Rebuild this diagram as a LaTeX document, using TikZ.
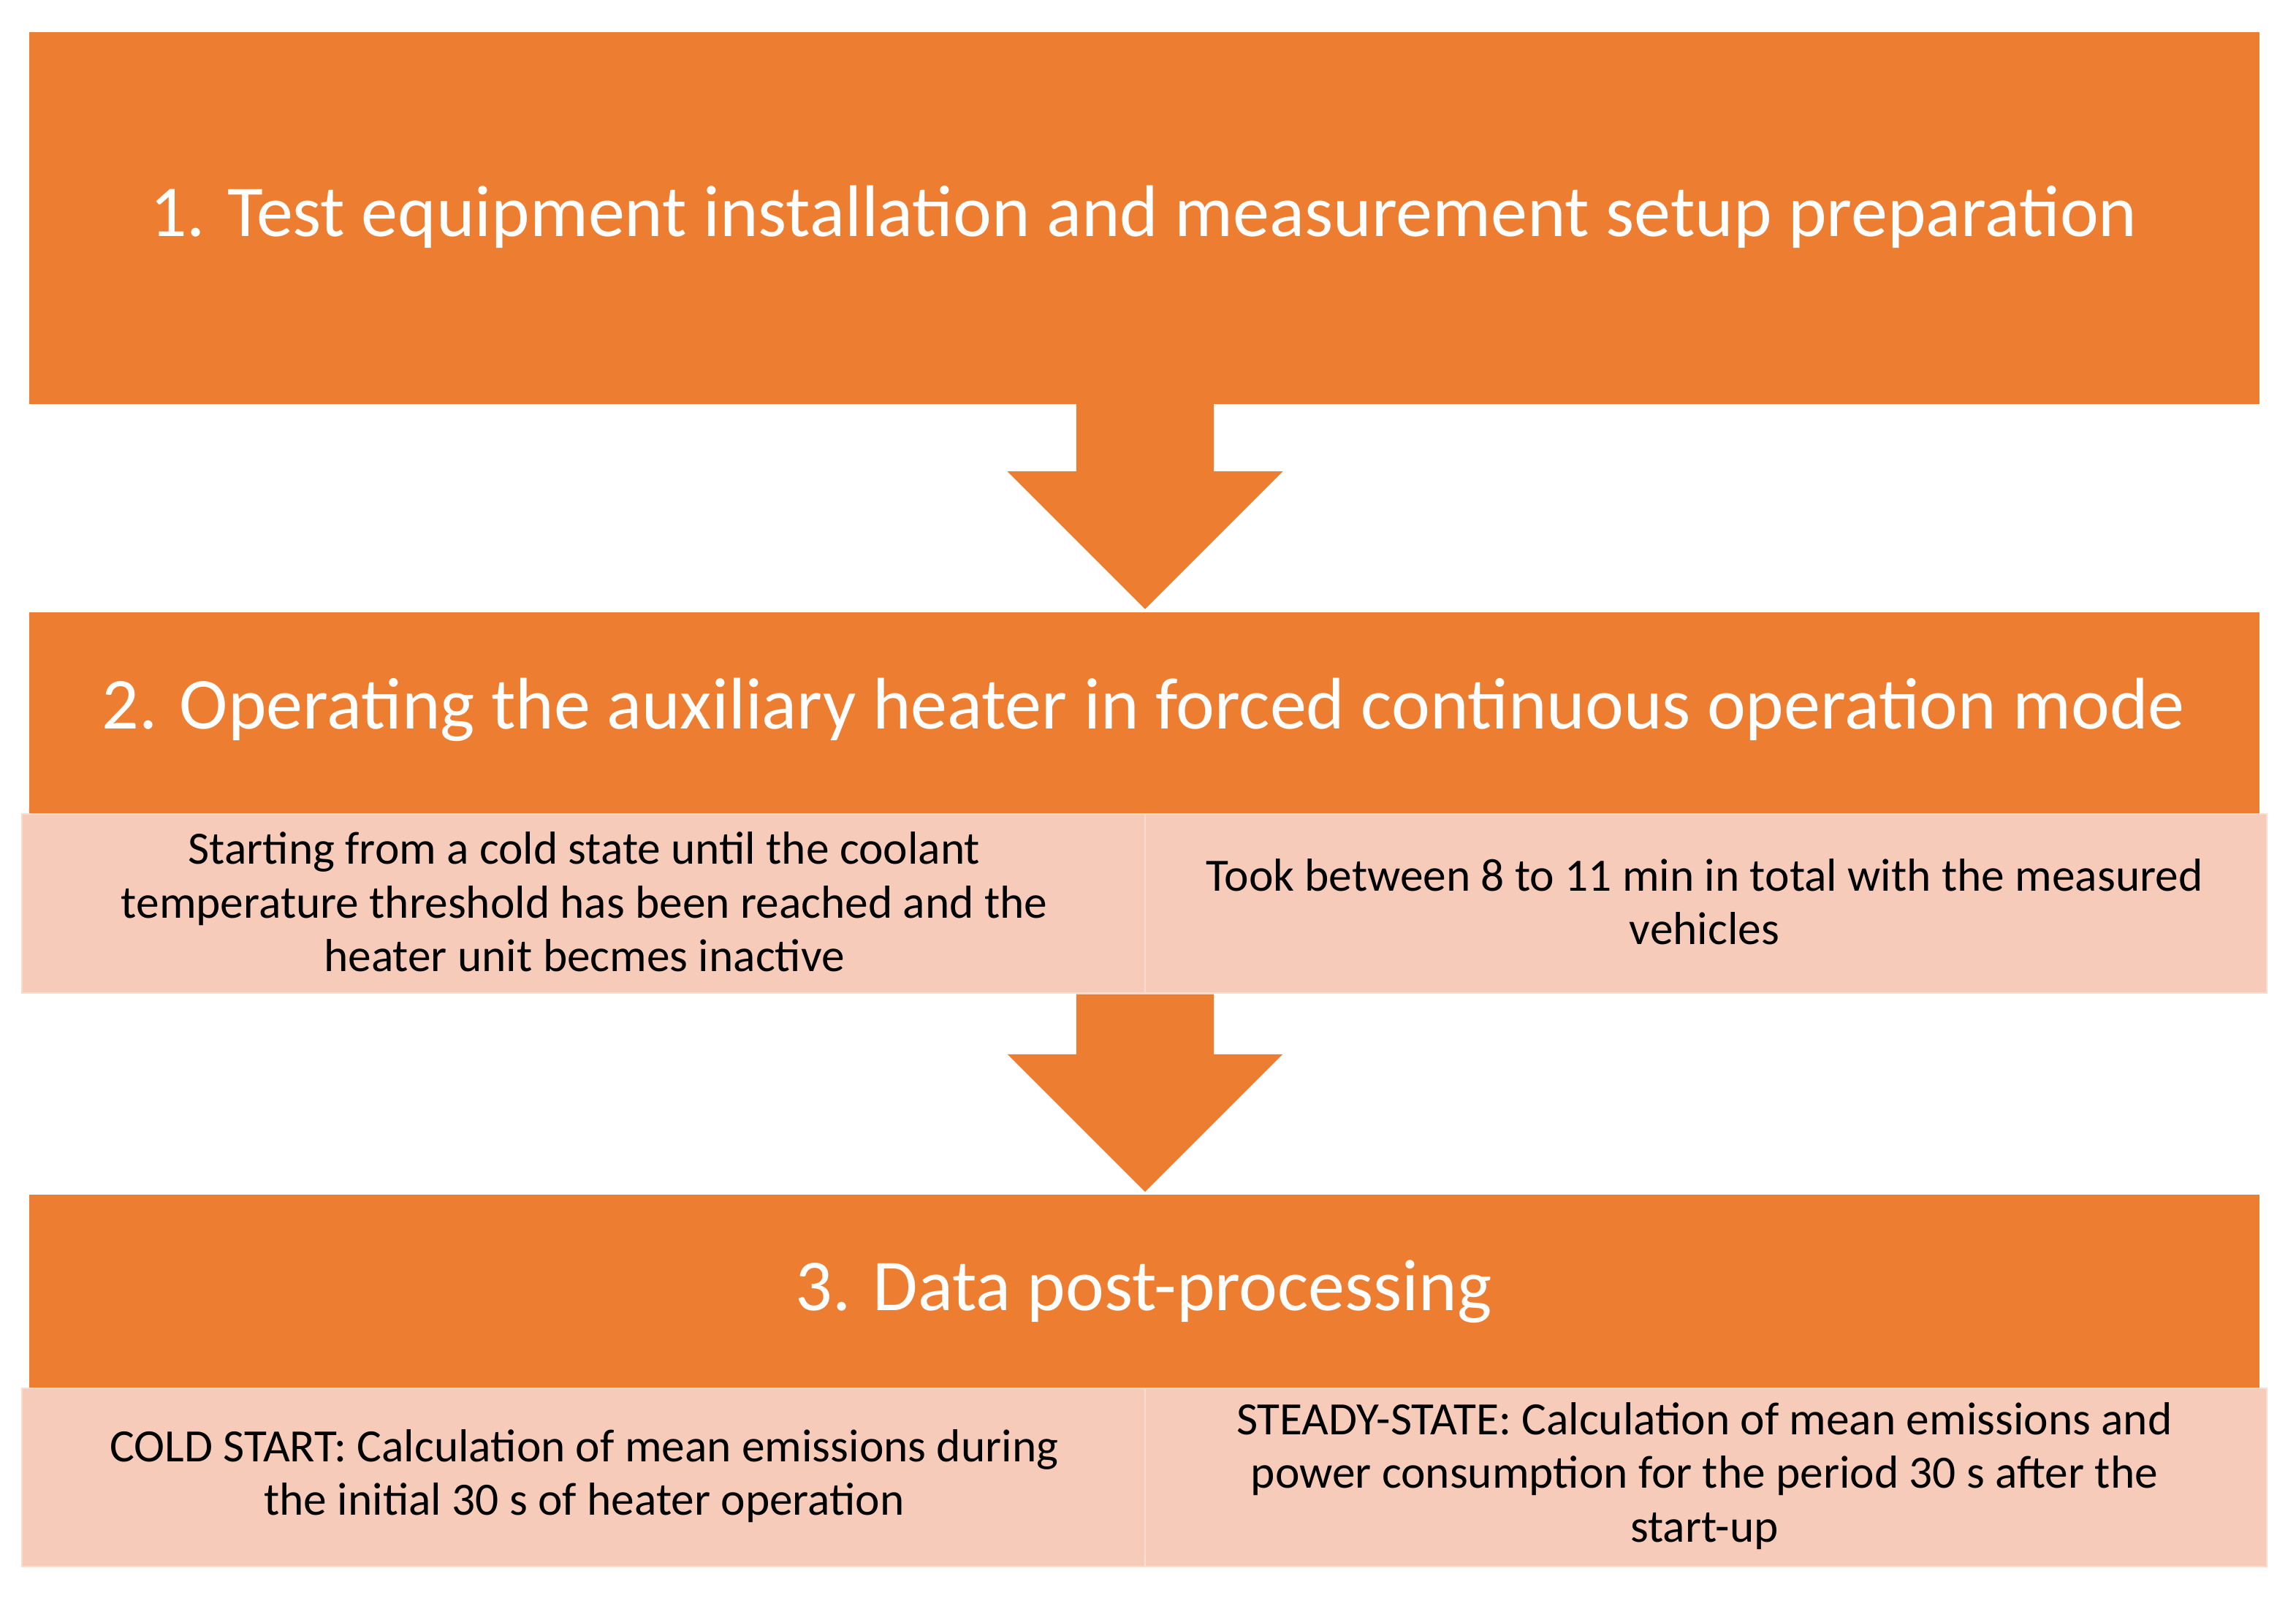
\documentclass[tikz,border=0pt]{standalone}
\usepackage{fontspec}
\setmainfont{Carlito}
\definecolor{orng}{HTML}{ED7D31}
\definecolor{pnk}{HTML}{F7CBBA}
\begin{document}
\begin{tikzpicture}[x=0.05cm,y=-0.05cm,
  big/.style={text=white,font=\fontsize{71}{78}\selectfont},
  small/.style={text=black,font=\fontsize{45}{52}\selectfont,align=center},
  sub/.style={fill=pnk,draw=pnk!70!white,line width=1.5pt}]
\useasboundingbox (0,0) rectangle (1568,1091);
\fill[orng] (20,22) rectangle (1543,276);
\node[big] (t1) at (781,148) {1. Test equipment installation and measurement setup preparation};
\fill[orng] (735,275) -- (829,275) -- (829,322) -- (876,322) -- (782,416) -- (688,322) -- (735,322) -- cycle;
\fill[orng] (20,418) rectangle (1543,556);
\node[big] (t2) at (781,485) {2. Operating the auxiliary heater in forced continuous operation mode};
\draw[sub] (15,556) rectangle (782,678);
\draw[sub] (782,556) rectangle (1548,678);
\node[small] (s1) at (399,616) {Starting from a cold state until the coolant\\temperature threshold has been reached and the\\heater unit becmes inactive};
\node[small] (s2) at (1164,616) {Took between 8 to 11 min in total with the measured\\vehicles};
\fill[orng] (735,679) -- (829,679) -- (829,720) -- (876,720) -- (782,814) -- (688,720) -- (735,720) -- cycle;
\fill[orng] (20,816) rectangle (1543,948);
\node[big] (t3) at (781,882) {3. Data post-processing};
\draw[sub] (15,948) rectangle (782,1070);
\draw[sub] (782,948) rectangle (1548,1070);
\node[small] (s3) at (399,1008) {COLD START: Calculation of mean emissions during\\the initial 30 s of heater operation};
\node[small] (s4) at (1164,1008) {STEADY-STATE: Calculation of mean emissions and\\power consumption for the period 30 s after the\\start-up};
\end{tikzpicture}
\end{document}
